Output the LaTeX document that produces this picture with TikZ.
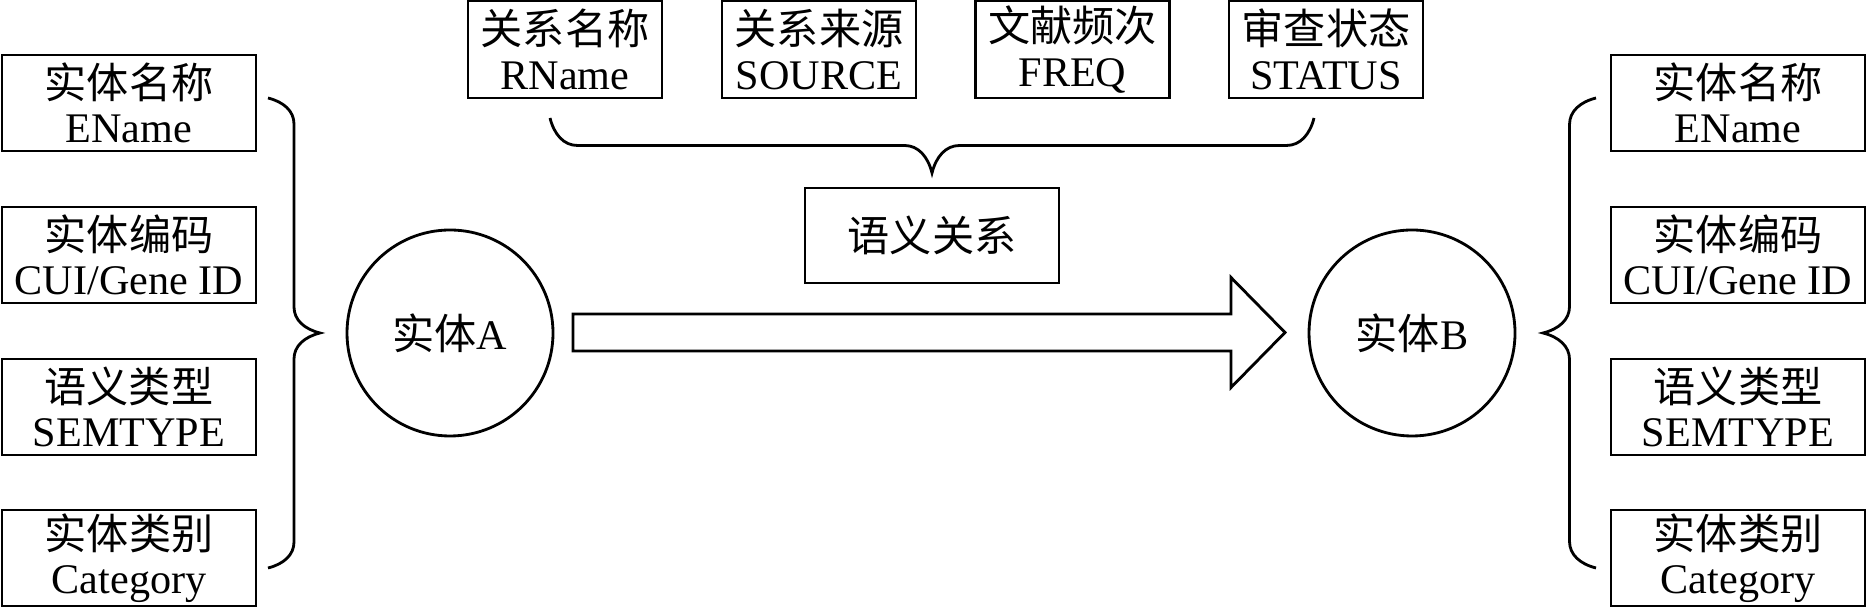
\documentclass[tikz,border=0pt]{standalone}
\usepackage{fontspec}
\setmainfont{Liberation Serif}
\newfontfamily\cjk{Noto Sans CJK SC}
\usepackage{tikz}
\usetikzlibrary{positioning, calc, decorations.pathreplacing}

\tikzset{
  attr/.style={draw, line width=0.8pt, minimum width=2.54cm, minimum height=0.96cm,
    inner sep=0pt, align=center, font=\fontsize{12}{12.6}\selectfont},
  rel/.style={attr, minimum width=1.94cm, minimum height=0.97cm},
  entity/.style={draw, circle, line width=0.8pt, minimum size=2.06cm, inner sep=0pt,
    font=\fontsize{12}{14}\selectfont},
  brc/.style={decorate, line width=0.8pt,
    decoration={brace, amplitude=#1, transform={yscale=2}}},
}

\begin{document}
\begin{tikzpicture}
    \useasboundingbox (0,0) rectangle (18.66,6.07);

    % Attributes of entity A
    \node[attr] (aName) at (1.29,5.04) {{\cjk 实体名称}\\EName};
    \node[attr] (aCode) at (1.29,3.52) {{\cjk 实体编码}\\CUI/Gene ID};
    \node[attr] (aType) at (1.29,2.00) {{\cjk 语义类型}\\SEMTYPE};
    \node[attr] (aCat) at (1.29,0.49) {{\cjk 实体类别}\\Category};

    % Attributes of entity B
    \node[attr] (bName) at (17.38,5.04) {{\cjk 实体名称}\\EName};
    \node[attr] (bCode) at (17.38,3.52) {{\cjk 实体编码}\\CUI/Gene ID};
    \node[attr] (bType) at (17.38,2.00) {{\cjk 语义类型}\\SEMTYPE};
    \node[attr] (bCat) at (17.38,0.49) {{\cjk 实体类别}\\Category};

    % Attributes of the relation
    \node[rel] (rName) at (5.65,5.575) {{\cjk 关系名称}\\RName};
    \node[rel] (rSrc) at (8.19,5.575) {{\cjk 关系来源}\\SOURCE};
    \node[rel] (rFreq) at (10.725,5.575) {{\cjk 文献频次}\\FREQ};
    \node[rel] (rStat) at (13.26,5.575) {{\cjk 审查状态}\\STATUS};

    \node[attr, minimum height=0.95cm] (sem) at (9.32,3.715) {\cjk 语义关系};

    % Entities
    \node[entity] (entA) at (4.50,2.74) {{\cjk 实体}A};
    \node[entity] (entB) at (14.12,2.74) {{\cjk 实体}B};

    % Braces
    \coordinate (lbTop) at (2.68,5.09);
    \coordinate (lbBot) at (2.68,0.39);
    \coordinate (rbTop) at (15.96,5.09);
    \coordinate (rbBot) at (15.96,0.39);
    \coordinate (tbLeft) at (5.50,4.89);
    \coordinate (tbRight) at (13.14,4.89);
    \draw[brc=0.26cm] (lbTop) -- (lbBot);
    \draw[brc=0.265cm] (rbBot) -- (rbTop);
    \draw[brc=0.275cm] (tbRight) -- (tbLeft);

    % Relation arrow
    \coordinate (arrTail) at (5.73,2.745);
    \coordinate (arrTip) at (12.85,2.745);
    \draw[line width=0.8pt] (arrTail) ++(0,0.185) -- ++(6.58,0) -- ++(0,0.365) -- (arrTip)
        -- ++(-0.54,-0.55) -- ++(0,0.365) -- ++(-6.58,0) -- cycle;
\end{tikzpicture}
\end{document}
